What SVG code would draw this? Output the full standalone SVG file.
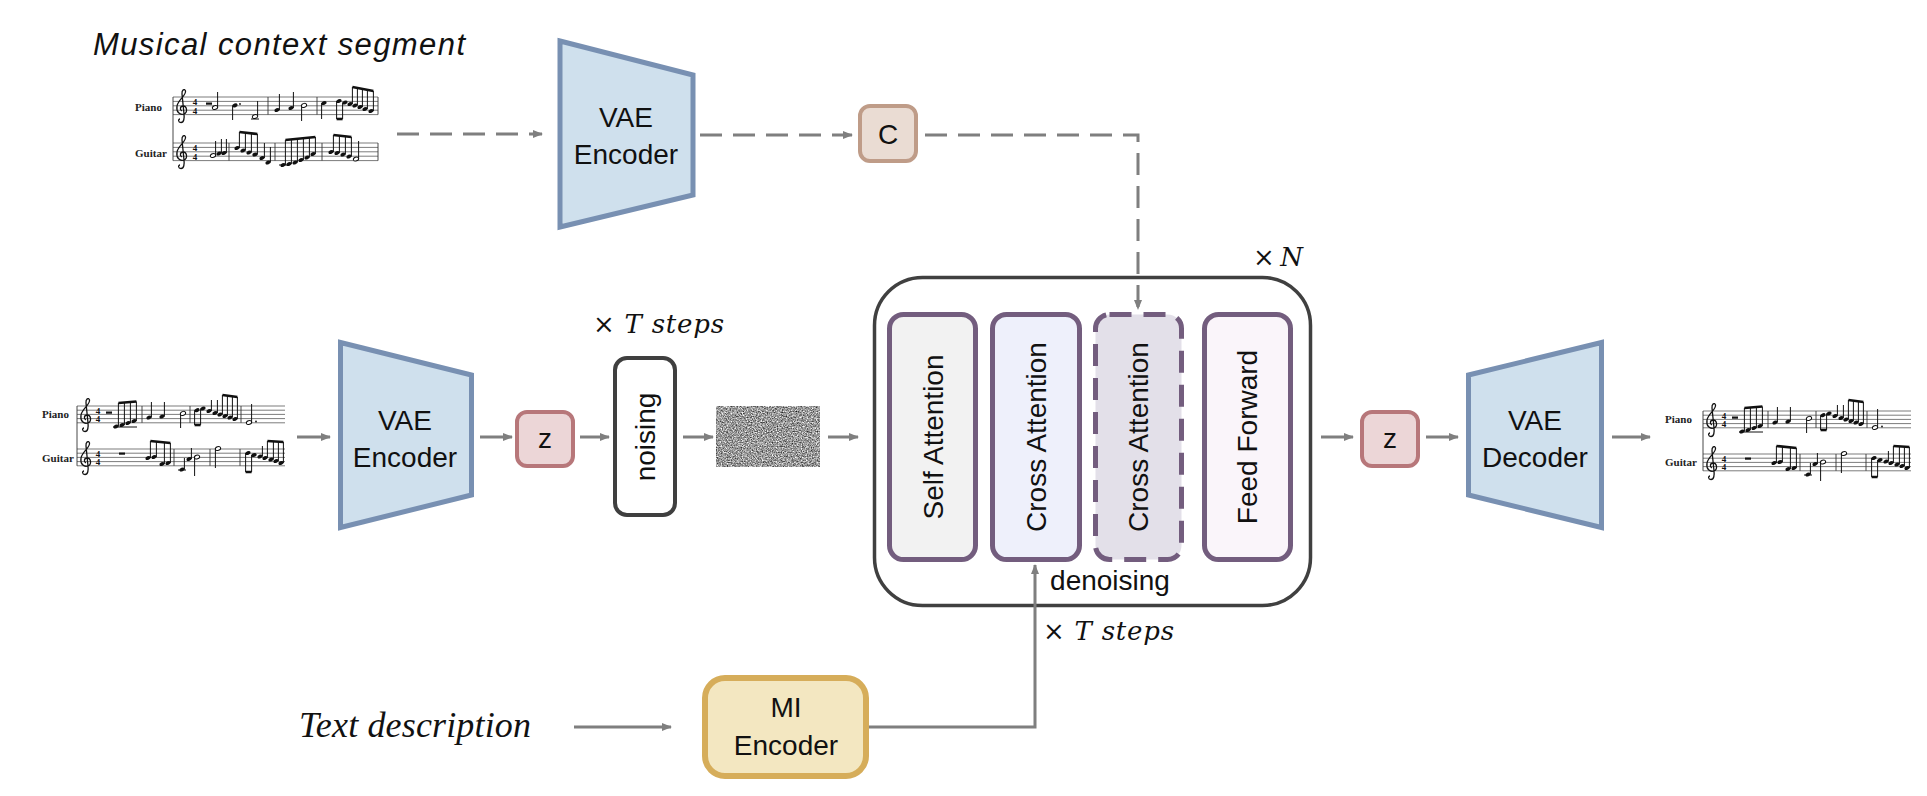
<svg xmlns="http://www.w3.org/2000/svg" xmlns:xlink="http://www.w3.org/1999/xlink" width="1927" height="796" viewBox="0 0 1927 796">
<style>
.lbl{font-family:"Liberation Sans",Arial,sans-serif;font-size:28px;fill:#111;text-anchor:middle}
.vae{fill:#cfe0ed;stroke:#7890b2;stroke-width:5;stroke-linejoin:miter}
.zb{fill:#ecd6d7;stroke:#b7777a;stroke-width:4}
.att{stroke:#735d7e;stroke-width:5}
.conn{fill:none;stroke:#7f7f7f;stroke-width:3}
.dash{stroke-dasharray:22 11}
.math{font-family:"DejaVu Serif","Liberation Serif",serif;font-size:26px;fill:#111}
.staff{fill:none;stroke:#444;stroke-width:0.7}
.bar{stroke:#333;stroke-width:0.9}
.stem{stroke:#111;stroke-width:1}
.beam{stroke:#111;stroke-width:2.6}
.nh{fill:#111}
.oh{fill:#fff;stroke:#111;stroke-width:1}
.inst{font-family:"Liberation Serif","Times New Roman",serif;font-weight:bold;font-size:11px;fill:#222}
.ts{font-family:"Liberation Serif","Times New Roman",serif;font-weight:bold;font-size:9px;fill:#111;text-anchor:middle}
</style>
<defs>
<marker id="ah" viewBox="0 0 10 8" refX="9" refY="4" markerWidth="10" markerHeight="8" markerUnits="userSpaceOnUse" orient="auto"><path d="M0,0 L10,4 L0,8 z" fill="#7f7f7f"/></marker>
<filter id="nz" x="0" y="0" width="1" height="1" color-interpolation-filters="sRGB">
<feTurbulence type="fractalNoise" baseFrequency="0.8" numOctaves="2" seed="7"/>
<feColorMatrix type="matrix" values="1.3 0 0 0 -0.05  1.3 0 0 0 -0.05  1.3 0 0 0 -0.05  0 0 0 0 1"/>
</filter>
<path id="clef" d="M5 31 C3 31 3 34.5 6 34.5 C9 34.5 9.5 30 9 26 L7 6 C6.6 2 9.5 0 10.5 3 C11.5 7 3 12 2 18 C1 24 5 27.5 9 26 C13 24.5 12 18 8 18 C5 18 4.5 22 7 23" fill="none" stroke="#111" stroke-width="1.3"/>
<ellipse id="h" rx="2.7" ry="1.9" transform="rotate(-20)" class="nh"/>
<ellipse id="o" rx="2.7" ry="1.9" transform="rotate(-20)" class="oh"/>
<g id="scoreA">
<path class="staff" d="M0 0H208M0 4.2H208M0 8.4H208M0 12.6H208M0 16.8H208M0 43H208M0 47.2H208M0 51.4H208M0 55.6H208M0 59.8H208"/>
<path class="bar" d="M0 0V59.8M65 0V16.8M113 0V16.8M164 0V16.8M97 43V59.8M133 43V59.8M163 43V59.8"/>
<use href="#clef" x="2" y="-9"/><use href="#clef" x="2" y="34"/>
<rect x="29" y="5.5" width="6" height="2.2" fill="#111"/>
<use href="#h" x="39" y="20.5"/><use href="#h" x="45" y="19"/><use href="#h" x="51" y="17"/><use href="#h" x="57" y="15"/>
<path class="stem" d="M41.4 20.5V-3M47.4 19V-3.4M53.4 17V-3.9M59.4 15V-4.5M36 21H60"/>
<path class="beam" d="M41.4 -3L59.4 -4.5"/>
<use href="#h" x="72" y="11.5"/><use href="#h" x="85" y="10.5"/>
<path class="stem" d="M74.4 11.5V-4M87.4 10.5V-4M103.6 7.4V22"/>
<use href="#o" x="106" y="7.4"/>
<use href="#h" x="120" y="4.2"/><use href="#h" x="126" y="2.5"/>
<path class="stem" d="M117.6 4.2V19M123.6 2.5V19"/><path class="beam" d="M117.6 19L123.6 19"/>
<use href="#h" x="132" y="5"/><use href="#h" x="138" y="7"/><use href="#h" x="143" y="8.5"/><use href="#h" x="148" y="10"/><use href="#h" x="153" y="11.5"/><use href="#h" x="158" y="13"/>
<path class="stem" d="M134.4 5V-6M140.4 7V-6M145.4 8.5V-11M150.4 10V-10.3M155.4 11.5V-9.7M160.4 13V-9"/>
<path class="beam" d="M145.4 -11L160.4 -9"/>
<use href="#o" x="172" y="16.5"/><path class="stem" d="M174.6 16.5V-2"/><circle cx="179" cy="15.5" r="0.9" fill="#111"/>
<rect x="42" y="46.5" width="6" height="2.2" fill="#111"/>
<use href="#h" x="71" y="52"/><use href="#h" x="77" y="51"/><use href="#h" x="85" y="58"/><use href="#h" x="91" y="57"/>
<path class="stem" d="M73.4 52V35M79.4 51V35.6M87.4 58V36.4M93.4 57V37"/><path class="beam" d="M73.4 35L93.4 37"/>
<use href="#h" x="105" y="63.5"/><use href="#h" x="112" y="53"/><use href="#o" x="120" y="51"/>
<path class="stem" d="M107.4 63.5V52M114.4 53V42M117.6 51V70M101 64H109"/>
<use href="#o" x="141" y="42.5"/><path class="stem" d="M138.4 42.5V62"/>
<use href="#h" x="171" y="47"/><use href="#h" x="177" y="49"/><use href="#h" x="183" y="50.5"/><use href="#h" x="188" y="52"/><use href="#h" x="194" y="53.5"/><use href="#h" x="199" y="55"/><use href="#h" x="204" y="57"/>
<path class="stem" d="M168.6 47V66M174.6 49V66M185.4 50.5V40M190.4 52V35M196.4 53.5V35.3M201.4 55V35.6M206.4 57V36"/>
<path class="beam" d="M168.6 66L174.6 66M190.4 35L206.4 36"/>
</g>
<g id="scoreB">
<path class="staff" d="M0 0H205M0 4.4H205M0 8.8H205M0 13.2H205M0 17.6H205M0 46H205M0 50.4H205M0 54.8H205M0 59.2H205M0 63.6H205"/>
<path class="bar" d="M0 0V63.6M95 0V17.6M144 0V17.6M205 0V17.6M56 46V63.6M102 46V63.6M149 46V63.6M205 46V63.6"/>
<use href="#clef" x="2" y="-9"/><use href="#clef" x="2" y="37"/>
<rect x="33" y="5.5" width="6" height="2.2" fill="#111"/>
<use href="#o" x="42" y="10.5"/><path class="stem" d="M44.6 10.5V-5"/>
<use href="#h" x="62" y="8.4"/><path class="stem" d="M59.6 8.4V23"/><circle cx="67" cy="7" r="0.9" fill="#111"/>
<use href="#o" x="82" y="19.5"/><path class="stem" d="M84.6 19.5V4M78 22H86"/>
<use href="#h" x="104" y="13"/><use href="#h" x="118" y="11"/><use href="#o" x="131" y="8.4"/>
<path class="stem" d="M106.4 13V-3M120.4 11V-5M128.6 8.4V24"/>
<use href="#h" x="151" y="6"/><path class="stem" d="M148.6 6V22"/>
<use href="#h" x="166" y="4"/><use href="#h" x="172" y="5.5"/>
<path class="stem" d="M163.6 4V22M169.6 5.5V22"/><path class="beam" d="M163.6 22L169.6 22"/>
<use href="#h" x="177" y="7"/><use href="#h" x="182" y="8.5"/><use href="#h" x="187" y="10"/><use href="#h" x="192" y="12"/><use href="#h" x="198" y="14"/>
<path class="stem" d="M179.4 7V-10M184.4 8.5V-9.2M189.4 10V-8.4M194.4 12V-7.4M200.4 14V-6"/><path class="beam" d="M179.4 -10L200.4 -6"/>
<use href="#o" x="40" y="58.5"/><use href="#h" x="46" y="56.5"/><use href="#h" x="51" y="56"/>
<path class="stem" d="M42.6 58.5V44M48.4 56.5V42M53.4 56V42"/>
<use href="#h" x="64" y="51"/><use href="#h" x="70" y="53.5"/><use href="#h" x="76" y="55.5"/><use href="#h" x="82" y="57.5"/><use href="#h" x="89" y="61"/><use href="#h" x="95" y="65.5"/>
<path class="stem" d="M66.4 51V35M72.4 53.5V35.5M78.4 55.5V36M84.4 57.5V37M91.4 61V46M97.4 65.5V50"/><path class="beam" d="M66.4 35L84.4 37"/>
<use href="#h" x="110" y="68"/><use href="#h" x="116" y="67"/><use href="#h" x="122" y="65.5"/><use href="#h" x="128" y="63"/><use href="#h" x="134" y="60.5"/><use href="#h" x="140" y="57"/>
<path class="stem" d="M112.4 68V43M118.4 67V42.4M124.4 65.5V41.8M130.4 63V41.2M136.4 60.5V40.6M142.4 57V40M106 68H114"/><path class="beam" d="M112.4 43L142.4 40"/>
<use href="#h" x="158" y="55"/><use href="#h" x="164" y="56"/><use href="#h" x="170" y="57.5"/><use href="#h" x="176" y="59.5"/><use href="#o" x="183" y="62"/>
<path class="stem" d="M160.4 55V38M166.4 56V38.7M172.4 57.5V39.3M178.4 59.5V40M185.6 62V44"/><path class="beam" d="M160.4 38L178.4 40"/>
</g>
</defs>
<rect width="1927" height="796" fill="#fff"/>

<g id="title-context"><text x="93" y="55" font-family="'Liberation Sans',Arial,sans-serif" font-style="italic" font-size="31" textLength="372" fill="#111">Musical context segment</text></g>

<g id="score-context" transform="translate(173 97)">
<use href="#scoreB"/>
<text class="inst" x="-38" y="14">Piano</text><text class="inst" x="-38" y="60">Guitar</text>
<text class="ts" x="22" y="8">4</text><text class="ts" x="22" y="16.5">4</text>
<text class="ts" x="22" y="54">4</text><text class="ts" x="22" y="62.5">4</text>
</g>

<g id="score-input" transform="translate(77 406)">
<use href="#scoreA"/>
<text class="inst" x="-35" y="11.5">Piano</text><text class="inst" x="-35" y="56">Guitar</text>
<text class="ts" x="21" y="8">4</text><text class="ts" x="21" y="16">4</text>
<text class="ts" x="21" y="51">4</text><text class="ts" x="21" y="59">4</text>
</g>

<g id="score-output" transform="translate(1703 411)">
<use href="#scoreA"/>
<text class="inst" x="-38" y="11.5">Piano</text><text class="inst" x="-38" y="55">Guitar</text>
<text class="ts" x="21" y="8">4</text><text class="ts" x="21" y="16">4</text>
<text class="ts" x="21" y="51">4</text><text class="ts" x="21" y="59">4</text>
</g>

<g id="vae-encoder-top">
<polygon class="vae" points="560,41 693,75 693,195 560,227"/>
<text class="lbl" x="626" y="127">VAE</text><text class="lbl" x="626" y="164">Encoder</text>
</g>

<g id="c-node">
<rect x="860" y="106" width="56" height="55" rx="10" fill="#eadcd3" stroke="#bf9c88" stroke-width="4"/>
<text class="lbl" x="888" y="144">C</text>
</g>

<g id="vae-encoder">
<polygon class="vae" points="340.5,342.5 471.5,375 471.5,495 340.5,527.5"/>
<text class="lbl" x="405" y="430">VAE</text><text class="lbl" x="405" y="467">Encoder</text>
</g>

<g id="z-in">
<rect class="zb" x="517" y="412" width="56" height="54" rx="10"/>
<text class="lbl" x="545" y="448">z</text>
</g>

<g id="steps-top"><text class="math" x="593" y="333" textLength="131"><tspan>× </tspan><tspan font-style="italic">T steps</tspan></text></g>

<g id="noising">
<rect x="615" y="358" width="60" height="157" rx="12" fill="#fff" stroke="#3f3f3f" stroke-width="4"/>
<text class="lbl" transform="translate(645 437) rotate(-90)" dy="10">noising</text>
</g>

<g id="noise"><rect x="716" y="406" width="104" height="61" fill="#777" filter="url(#nz)"/></g>

<g id="denoiser">
<rect x="874.5" y="277.5" width="436" height="328" rx="48" fill="#fff" stroke="#404040" stroke-width="3.5"/>
<text class="math" x="1253" y="266" textLength="50"><tspan>× </tspan><tspan font-style="italic">N</tspan></text>
<text class="lbl" x="1110" y="590">denoising</text>
</g>

<g id="self-attention">
<rect class="att" x="889.5" y="314.5" width="86" height="245" rx="14" fill="#f2f2f2"/>
<text class="lbl" transform="translate(933 437) rotate(-90)" dy="10">Self Attention</text>
</g>
<g id="cross-attention-text">
<rect class="att" x="992.5" y="314.5" width="87" height="245" rx="14" fill="#eef0fb"/>
<text class="lbl" transform="translate(1036 437) rotate(-90)" dy="10">Cross Attention</text>
</g>
<g id="cross-attention-context">
<rect class="att" x="1095.5" y="314.5" width="86" height="245" rx="14" fill="#e3e0e9" stroke-dasharray="22 12"/>
<text class="lbl" transform="translate(1138 437) rotate(-90)" dy="10">Cross Attention</text>
</g>
<g id="feed-forward">
<rect class="att" x="1204.5" y="314.5" width="86" height="245" rx="14" fill="#faf5fa"/>
<text class="lbl" transform="translate(1247 437) rotate(-90)" dy="10">Feed Forward</text>
</g>

<g id="z-out">
<rect class="zb" x="1362" y="412" width="56" height="54" rx="10"/>
<text class="lbl" x="1390" y="448">z</text>
</g>

<g id="vae-decoder">
<polygon class="vae" points="1468.5,375 1601.5,342.5 1601.5,527.5 1468.5,495"/>
<text class="lbl" x="1535" y="430">VAE</text><text class="lbl" x="1535" y="467">Decoder</text>
</g>

<g id="text-description"><text x="299" y="737" font-family="'Liberation Serif','Times New Roman',serif" font-style="italic" font-size="36" textLength="232" fill="#111">Text description</text></g>

<g id="mi-encoder">
<rect x="705" y="678" width="161" height="98" rx="20" fill="#f3e7c1" stroke="#d6ad5a" stroke-width="6"/>
<text class="lbl" x="786" y="717">MI</text><text class="lbl" x="786" y="755">Encoder</text>
</g>

<g id="steps-bottom"><text class="math" x="1043" y="640" textLength="131"><tspan>× </tspan><tspan font-style="italic">T steps</tspan></text></g>

<g id="connectors">
<path class="conn dash" d="M397 134H542" marker-end="url(#ah)"/>
<path class="conn dash" d="M700 135H852" marker-end="url(#ah)"/>
<path class="conn dash" d="M925 135H1138V309" marker-end="url(#ah)"/>
<path class="conn" d="M297 437H330" marker-end="url(#ah)"/>
<path class="conn" d="M480 437H512" marker-end="url(#ah)"/>
<path class="conn" d="M580 437H609" marker-end="url(#ah)"/>
<path class="conn" d="M683 437H713" marker-end="url(#ah)"/>
<path class="conn" d="M828 437H858" marker-end="url(#ah)"/>
<path class="conn" d="M1321 437H1353" marker-end="url(#ah)"/>
<path class="conn" d="M1426 437H1458" marker-end="url(#ah)"/>
<path class="conn" d="M1612 437H1650" marker-end="url(#ah)"/>
<path class="conn" d="M574 727H671" marker-end="url(#ah)"/>
<path class="conn" d="M869 727H1035V565" marker-end="url(#ah)"/>
</g>
</svg>
